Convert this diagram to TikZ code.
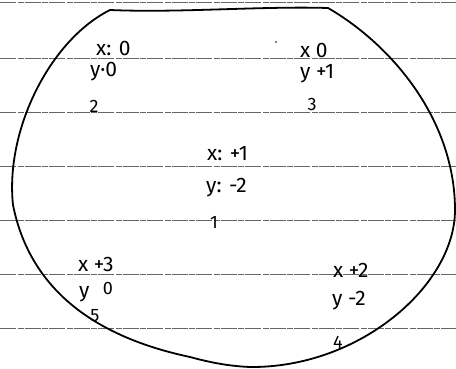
\documentclass[tikz,border=0pt]{standalone}
\usepackage{fontspec}
\setmainfont{Fira Sans}
\begin{document}
\begin{tikzpicture}[x=1pt,y=-1pt,
  rule/.style={draw=black!60,line width=1pt,dash pattern=on 16pt off 1.5pt on 6pt off 1pt},
  hand/.style={font=\fontsize{21}{21}\selectfont,inner sep=0pt,anchor=west},
  small/.style={font=\fontsize{18}{18}\selectfont,inner sep=0pt}]
\useasboundingbox (0,0) rectangle (456,369);
\fill[white] (0,0) rectangle (456,369);
% ruled lines
\foreach \yy in {3,59,113,167,220,274,328}
  \draw[rule] (0,\yy) -- (456,\yy);
% outline
\draw[line width=1.8pt,line join=round]
  (110,10) .. controls (180,13) and (260,6) .. (328,8)
  .. controls (392,45) and (455,120) .. (455,210)
  .. controls (455,285) and (360,368) .. (250,367)
  .. controls (225,366) and (205,361) .. (190,357)
  .. controls (110,340) and (32,300) .. (13,205)
  .. controls (5,130) and (50,40) .. cycle;
% labels
\node[hand] (a1) at (96,48) {x: 0};
\node[hand] (a2) at (90,72) {y·0};
\node[small] (a3) at (94,106) {2};
\node[circle,fill=black,inner sep=0.6pt] (dot) at (276,42) {};
\node[hand] (b1) at (300,50) {x 0};
\node[hand] (b2) at (300,74) {y +1};
\node[small] (b3) at (312,104) {3};
\node[hand] (c1) at (207,154) {x: +1};
\node[hand] (c2) at (206,188) {y: -2};
\node[small] (c3) at (214,222) {1};
\node[hand] (d1) at (78,264) {x +3};
\node[hand] (d2) at (79,294) {y};
\node[small] (d3) at (108,288) {0};
\node[small] (d4) at (95,316) {5};
\node[hand] (e1) at (333,270) {x +2};
\node[hand] (e2) at (332,301) {y -2};
\node[small] (e3) at (338,342) {4};
\end{tikzpicture}
\end{document}
